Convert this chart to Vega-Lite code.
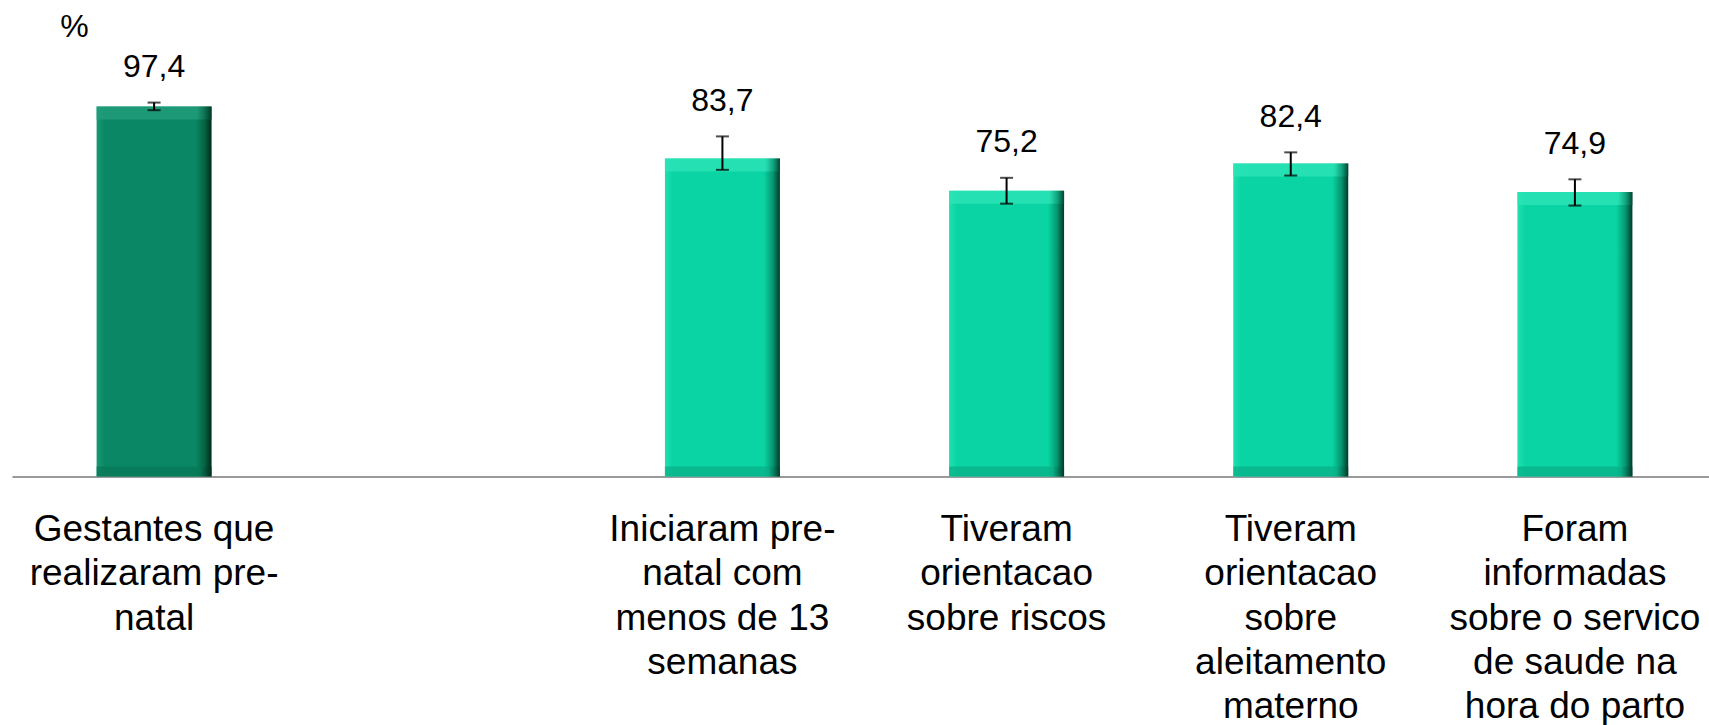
{
  "$schema": "https://vega.github.io/schema/vega-lite/v6.json",
  "width": 1697,
  "height": 380,
  "autosize": {"type": "none"},
  "padding": {"left": 12, "top": 96.5, "right": 0, "bottom": 248.5},
  "background": "white",
  "config": {
    "view": {"stroke": null},
    "font": "Liberation Sans",
    "locale": {"number": {"decimal": ",", "thousands": ".", "grouping": [3], "currency": ["R$", ""]}}
  },
  "data": {
    "values": [
      {"cat": "Gestantes que|realizaram pre-|natal", "valor": 97.4, "inf": 96.4, "sup": 98.4, "grupo": "total"},
      {"cat": "Iniciaram pre-|natal com|menos de 13|semanas", "valor": 83.7, "inf": 80.7, "sup": 89.5, "grupo": "sub"},
      {"cat": "Tiveram|orientacao|sobre riscos", "valor": 75.2, "inf": 71.8, "sup": 78.6, "grupo": "sub"},
      {"cat": "Tiveram|orientacao|sobre|aleitamento|materno", "valor": 82.4, "inf": 79.2, "sup": 85.3, "grupo": "sub"},
      {"cat": "Foram|informadas|sobre o servico|de saude na|hora do parto", "valor": 74.9, "inf": 71.3, "sup": 78.2, "grupo": "sub"}
    ]
  },
  "encoding": {
    "x": {
      "field": "cat",
      "type": "nominal",
      "sort": null,
      "title": null,
      "scale": {
        "domain": [
          "Gestantes que|realizaram pre-|natal",
          " ",
          "Iniciaram pre-|natal com|menos de 13|semanas",
          "Tiveram|orientacao|sobre riscos",
          "Tiveram|orientacao|sobre|aleitamento|materno",
          "Foram|informadas|sobre o servico|de saude na|hora do parto"
        ],
        "range": [0, 1705],
        "paddingInner": 0.5954,
        "paddingOuter": 0.2977
      },
      "axis": {
        "labelExpr": "split(datum.label, '|')",
        "labelAngle": 0,
        "labelFont": "Liberation Sans",
        "labelFontSize": 37,
        "labelLineHeight": 44.3,
        "labelPadding": 35,
        "labelBaseline": "top",
        "labelAlign": "center",
        "labelColor": "#000000",
        "labelLimit": 0,
        "labelOverlap": false,
        "labelFlush": false,
        "ticks": false,
        "domainColor": "#9a9a9a",
        "domainWidth": 2,
        "grid": false
      }
    }
  },
  "layer": [
    {
      "mark": {"type": "bar"},
      "encoding": {
        "y": {
          "field": "valor",
          "type": "quantitative",
          "title": "%",
          "scale": {"domain": [0, 100], "nice": false},
          "axis": {
            "titleAngle": 0,
            "titleX": 62,
            "titleY": -70,
            "titleFont": "Liberation Sans",
            "titleFontSize": 32,
            "titleFontWeight": "normal",
            "titleAlign": "center",
            "titleBaseline": "middle",
            "titleColor": "#000000",
            "domain": false,
            "ticks": false,
            "labels": false,
            "grid": false
          }
        },
        "color": {
          "condition": {
            "test": "datum.grupo == 'total'",
            "value": {"gradient": "linear", "stops": [
              {"offset": 0, "color": "#1a9873"},
              {"offset": 0.07, "color": "#0a8865"},
              {"offset": 0.86, "color": "#0a8865"},
              {"offset": 0.94, "color": "#056243"},
              {"offset": 1, "color": "#002a1b"}
            ]}
          },
          "value": {"gradient": "linear", "stops": [
            {"offset": 0, "color": "#1ee0b0"},
            {"offset": 0.07, "color": "#0ad4a3"},
            {"offset": 0.86, "color": "#0ad4a3"},
            {"offset": 0.94, "color": "#06956f"},
            {"offset": 1, "color": "#003a29"}
          ]}
        }
      }
    },
    {
      "mark": {"type": "tick", "orient": "horizontal", "size": 115, "thickness": 13, "yOffset": 6.5},
      "encoding": {
        "y": {"field": "valor", "type": "quantitative", "title": "%"},
        "color": {
          "condition": {
            "test": "datum.grupo == 'total'",
            "value": {"gradient": "linear", "stops": [
              {"offset": 0, "color": "#24a07d"},
              {"offset": 0.88, "color": "#24a07d"},
              {"offset": 0.95, "color": "#0d6e4f"},
              {"offset": 1, "color": "#00402b"}
            ]}
          },
          "value": {"gradient": "linear", "stops": [
            {"offset": 0, "color": "#30e6b9"},
            {"offset": 0.88, "color": "#30e6b9"},
            {"offset": 0.95, "color": "#12a07c"},
            {"offset": 1, "color": "#004a34"}
          ]}
        }
      }
    },
    {
      "mark": {"type": "tick", "orient": "horizontal", "size": 115, "thickness": 10, "yOffset": -5},
      "encoding": {
        "y": {"datum": 0, "type": "quantitative", "title": "%"},
        "color": {
          "condition": {
            "test": "datum.grupo == 'total'",
            "value": {"gradient": "linear", "stops": [
              {"offset": 0, "color": "#077656"},
              {"offset": 0.9, "color": "#077656"},
              {"offset": 1, "color": "#002a1b"}
            ]}
          },
          "value": {"gradient": "linear", "stops": [
            {"offset": 0, "color": "#08ad85"},
            {"offset": 0.9, "color": "#08ad85"},
            {"offset": 1, "color": "#003a29"}
          ]}
        }
      }
    },
    {
      "mark": {"type": "rule", "color": "#000000", "strokeWidth": 2},
      "encoding": {
        "y": {"field": "inf", "type": "quantitative", "title": "%"},
        "y2": {"field": "sup"}
      }
    },
    {
      "mark": {"type": "tick", "orient": "horizontal", "size": 13, "thickness": 2, "color": "#000000"},
      "encoding": {
        "y": {"field": "inf", "type": "quantitative", "title": "%"}
      }
    },
    {
      "mark": {"type": "tick", "orient": "horizontal", "size": 13, "thickness": 2, "color": "#000000"},
      "encoding": {
        "y": {"field": "sup", "type": "quantitative", "title": "%"}
      }
    },
    {
      "mark": {"type": "text", "dy": -35.5, "fontSize": 32, "baseline": "middle", "align": "center", "color": "#000000", "font": "Liberation Sans"},
      "encoding": {
        "y": {"field": "sup", "type": "quantitative", "title": "%"},
        "text": {"field": "valor", "type": "quantitative", "format": ".1f"}
      }
    }
  ]
}
